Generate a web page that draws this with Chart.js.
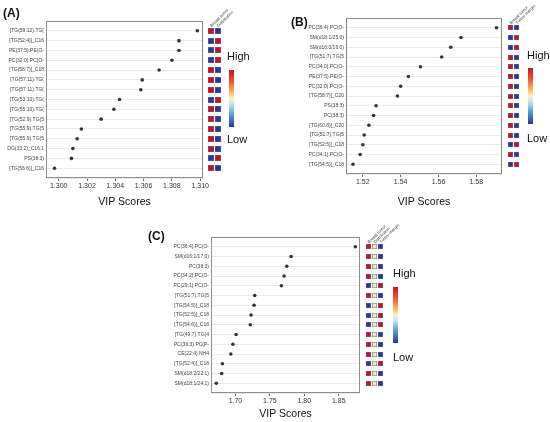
<!DOCTYPE html>
<html>
<head>
<meta charset="utf-8">
<script src="https://cdn.jsdelivr.net/npm/chart.js@4.4.1/dist/chart.umd.min.js"></script>
<style>
  body { margin: 0; background: #fff; font-family: 'Liberation Sans', Arial, sans-serif; }
  #fig { position: relative; width: 550px; height: 422px; overflow: hidden; background: #fff; }
  #fig canvas { position: absolute; }
  .tag { position: absolute; font-weight: bold; font-size: 12px; line-height: 12px; color: #111; }
  .hl { position: absolute; font-size: 11px; line-height: 11px; color: #111; }
  .bar { position: absolute; width: 5px;
         background: linear-gradient(to bottom, #d0112b 0%, #ee4a2e 18%, #fbb45c 38%, #fdf1c4 50%, #bfe6f2 60%, #5a9fcf 78%, #24399a 100%); }
</style>
</head>
<body>
<div id="fig">
  <canvas id="chartA" width="275" height="212" style="left:0;top:0"></canvas>
  <canvas id="chartB" width="275" height="212" style="left:275px;top:0"></canvas>
  <canvas id="chartC" width="290" height="212" style="left:130px;top:212px"></canvas>

  <div class="tag" style="left:3px;top:7px">(A)</div>
  <div class="tag" style="left:291px;top:16px">(B)</div>
  <div class="tag" style="left:148px;top:230px">(C)</div>

  <div class="hl" style="left:227px;top:51px">High</div>
  <div class="bar" style="left:229px;top:70px;height:57px"></div>
  <div class="hl" style="left:227px;top:134px">Low</div>

  <div class="hl" style="left:527px;top:50px">High</div>
  <div class="bar" style="left:528px;top:68px;height:56px"></div>
  <div class="hl" style="left:527px;top:133px">Low</div>

  <div class="hl" style="left:393px;top:268px">High</div>
  <div class="bar" style="left:393px;top:287px;height:56px"></div>
  <div class="hl" style="left:393px;top:352px">Low</div>
</div>
<script>
// (A)
const namesA = ['[TG(59:12).TG(', '[TG(52:4)]_C16', 'PE(37:5).PE(O-', 'PC(32:0).PC(O-', '[TG(58:7)]_C18',
  '[TG(57:11).TG(', '[TG(57:11).TG(', '[TG(53:10).TG(', '[TG(55:10).TG(', '[TG(52:9).TG(5',
  '[TG(55:9).TG(5', '[TG(55:9).TG(5', 'DG(33:2)_C16:1', 'PS(38:3)', '[TG(56:6)]_C16'];
const vipA = [1.3098, 1.3085, 1.3085, 1.3080, 1.3071, 1.3059, 1.3058, 1.3043, 1.3039, 1.3030,
  1.3016, 1.3013, 1.3010, 1.3009, 1.2997];
const ticksA = [1.300, 1.302, 1.304, 1.306, 1.308, 1.310];
const tumorA = [1, 0, 0, 0, 1, 1, 1, 0, 1, 1, 1, 1, 1, 0, 1];
const distA  = [0, 1, 1, 1, 0, 0, 0, 1, 0, 0, 0, 0, 0, 1, 0];

// (B)
const namesB = ['PC(36:4).PC(O-', 'SM(d18:1/25:0)', 'SM(d16:0/16:0)', '[TG(51:7).TG(5', 'PC(34:0).PC(O-',
  'PE(37:5).PE(O-', 'PC(32:0).PC(O-', '[TG(58:7)]_C20', 'PS(38:3)', 'PC(38:3)',
  '[TG(60:8)]_C20', '[TG(51:7).TG(5', '[TG(52:5)]_C18', 'PC(34:1).PC(O-', '[TG(54:5)]_C18'];
const vipB = [1.5907, 1.5719, 1.5665, 1.5617, 1.5505, 1.5441, 1.5400, 1.5383, 1.5270, 1.5257,
  1.5232, 1.5207, 1.5200, 1.5186, 1.5148];
const ticksB = [1.52, 1.54, 1.56, 1.58];
const tumorB  = [1, 0, 0, 1, 1, 1, 1, 1, 1, 1, 1, 1, 0, 1, 0];
const marginB = [0, 1, 1, 0, 0, 0, 0, 0, 0, 0, 0, 0, 1, 0, 1];

// (C)
const namesC = ['PC(36:4).PC(O-', 'SM(d16:1/17:0)', 'PC(38:3)', 'PC(34:2).PC(O-', 'PC(29:1).PC(O-',
  '[TG(51:7).TG(5', '[TG(54:5)]_C18', '[TG(52:5)]_C18', '[TG(54:6)]_C18', '[TG(49:7).TG(4',
  'PC(36:3).PC(P-', 'CE(22:4).NH4', '[TG(52:4)]_C18', 'SM(d18:2/22:1)', 'SM(d18:1/24:1)'];
const vipC = [1.8740, 1.7808, 1.7745, 1.7706, 1.7667, 1.7280, 1.7270, 1.7226, 1.7216, 1.7010,
  1.6962, 1.6933, 1.6810, 1.6800, 1.6722];
const ticksC = [1.70, 1.75, 1.80, 1.85];
const tumorC  = [1, 1, 1, 1, 0, 1, 0, 0, 0, 1, 1, 1, 0, 1, 1];
const distC   = [0.5, 0.5, 0.5, 0.5, 0.5, 0.5, 0.5, 0.5, 0.5, 0.5, 0.5, 0.5, 0.5, 0.5, 0.5];
const marginC = [0, 0, 0, 0, 1, 0, 1, 1, 1, 0, 0, 0, 1, 0, 0];

const FONT = "'Liberation Sans', Arial, sans-serif";

const heatColor = v => v >= 0.75 ? '#c8102e' : (v <= 0.25 ? '#26379b' : '#f3e7bd');

// frame round the plot + the small heat map columns on the right
const frameHeat = {
  id: 'frameHeat',
  afterDraw(chart, args, opts) {
    const { ctx, chartArea: a, scales: { y } } = chart;
    ctx.save();
    ctx.strokeStyle = '#8e8e8e';
    ctx.lineWidth = 1;
    ctx.strokeRect(a.left + 0.5, a.top + 0.5, a.width - 1, a.height - 1);

    const s = opts.size;
    opts.columns.forEach((col, j) => {
      col.forEach((v, i) => {
        const y0 = Math.round(y.getPixelForValue(i + 1) - s / 2);
        const x0 = Math.round(a.right + opts.gap + j * (s + 1));
        ctx.fillStyle = '#6a6a7a';
        ctx.fillRect(x0, y0, s, s);
        ctx.fillStyle = heatColor(v);
        ctx.fillRect(x0 + 0.5, y0 + 0.5, s - 1, s - 1);
      });
    });

    const yTop = y.getPixelForValue(1) - s / 2 - 1.5;
    ctx.font = '4.2px ' + FONT;
    ctx.fillStyle = '#333';
    ctx.textAlign = 'left';
    ctx.textBaseline = 'middle';
    opts.headers.forEach((h, j) => {
      ctx.save();
      ctx.translate(a.right + opts.gap + j * (s + 1) + s / 2, yTop);
      ctx.rotate(-Math.PI / 4);
      ctx.fillText(h, 0, 0);
      ctx.restore();
    });
    ctx.restore();
  }
};

function vipChart(id, names, vip, ticks, digits, range, columns, headers, g) {
  const n = names.length;
  return new Chart(document.getElementById(id), {
    type: 'scatter',
    data: {
      datasets: [{
        data: vip.map((v, i) => ({ x: v, y: i + 1 })),
        backgroundColor: '#333',
        borderWidth: 0,
        pointRadius: 1.8
      }]
    },
    options: {
      responsive: false,
      animation: false,
      layout: { padding: { top: g.top, right: g.w - g.right, left: 0, bottom: 0 } },
      scales: {
        x: {
          type: 'linear',
          min: range[0],
          max: range[1],
          afterBuildTicks: s => { s.ticks = ticks.map(v => ({ value: v })); },
          afterFit: s => { s.height = g.h - g.bottom; },
          grid: { drawOnChartArea: false, drawTicks: true, tickLength: 3, color: '#666' },
          border: { display: false },
          ticks: { font: { family: FONT, size: 7 }, color: '#333', padding: 1,
                   maxRotation: 0, callback: v => v.toFixed(digits) },
          title: { display: true, text: 'VIP Scores', color: '#111',
                   font: { family: FONT, size: 10.5 }, padding: { top: 2, bottom: 4 } }
        },
        y: {
          type: 'linear',
          reverse: true,
          min: 0,
          max: n + 1,
          afterBuildTicks: s => { s.ticks = Array.from({ length: n + 2 }, (_, k) => ({ value: k })); },
          afterFit: s => { s.width = g.left; },
          grid: { color: '#e4e4e4', lineWidth: 0.8, drawTicks: false },
          border: { display: false },
          ticks: { font: { family: FONT, size: 5 }, color: '#444', padding: 2, autoSkip: false,
                   callback: v => names[v - 1] || '' }
        }
      },
      plugins: {
        legend: { display: false },
        tooltip: { enabled: false },
        frameHeat: { columns, headers, size: g.sq, gap: g.gap }
      }
    },
    plugins: [frameHeat]
  });
}

vipChart('chartA', namesA, vipA, ticksA, 3, [1.2991, 1.3102],
  [tumorA, distA], ['Breast tumor', 'Distribution'],
  { w: 275, h: 212, left: 46, right: 203, top: 21, bottom: 178, sq: 6, gap: 5 });

vipChart('chartB', namesB, vipB, ticksB, 2, [1.5111, 1.5936],
  [tumorB, marginB], ['Breast tumor', 'Tumor margin'],
  { w: 275, h: 212, left: 71, right: 227, top: 18, bottom: 174, sq: 5, gap: 6 });

vipChart('chartC', namesC, vipC, ticksC, 2, [1.6645, 1.8808],
  [tumorC, distC, marginC], ['Breast tumor', 'Distribution', 'Tumor margin'],
  { w: 290, h: 212, left: 81, right: 230, top: 25, bottom: 181, sq: 5, gap: 6 });
</script>
</body>
</html>
